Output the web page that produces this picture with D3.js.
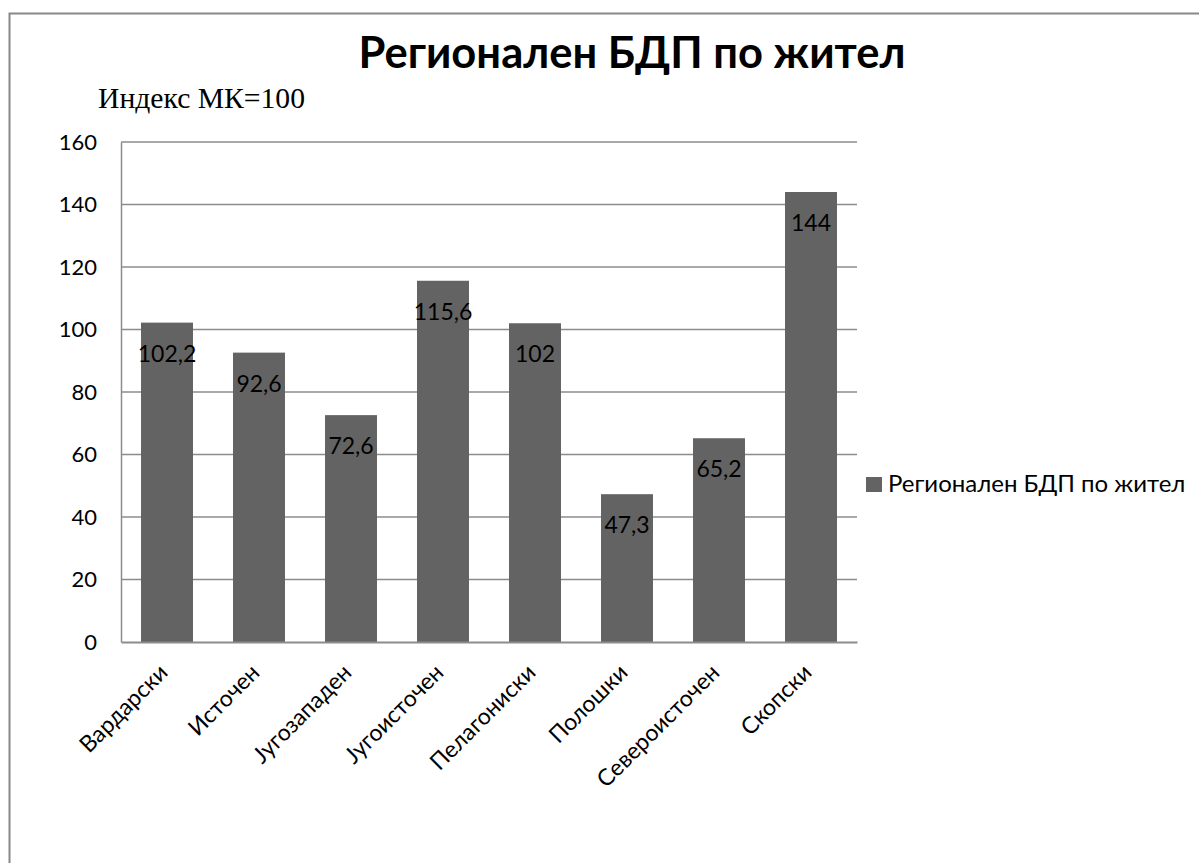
<!DOCTYPE html>
<html>
<head>
<meta charset="utf-8">
<script src="https://cdn.jsdelivr.net/npm/d3@7"></script>
<style>
  body { margin: 0; background: #fff; }
  text { font-family: Lato, "Open Sans", sans-serif; }
</style>
</head>
<body>
<div class="chart"></div>
<script>
var svgWidth = 1199;
var svgHeight = 863;

// chart values
var regions = ["Вардарски", "Источен", "Југозападен", "Југоисточен", "Пелагониски", "Полошки", "Североисточен", "Скопски"];
var values = [102.2, 92.6, 72.6, 115.6, 102, 47.3, 65.2, 144];
var valueLabels = ["102,2", "92,6", "72,6", "115,6", "102", "47,3", "65,2", "144"];
var yTicks = [0, 20, 40, 60, 80, 100, 120, 140, 160];
var seriesName = "Регионален БДП по жител";

var margin = { top: 142, left: 121 };
var width = 736;
var height = 500;

var svg = d3.select(".chart")
  .append("svg")
  .attr("width", svgWidth)
  .attr("height", svgHeight);

// outer chart frame
svg.append("rect")
  .attr("x", 9.5)
  .attr("y", 13.5)
  .attr("width", 1250)
  .attr("height", 900)
  .attr("fill", "none")
  .attr("stroke", "#888")
  .attr("stroke-width", 2);

var chart = svg.append("g")
  .attr("transform", "translate(" + margin.left + "," + margin.top + ")");

var xBandScale = d3.scaleBand()
  .domain(regions)
  .range([0, width])
  .paddingInner(0.435)
  .paddingOuter(0.2175);

var yLinearScale = d3.scaleLinear()
  .domain([0, 160])
  .range([height, 0]);

// gridlines
chart.selectAll(".grid")
  .data(yTicks.filter(function(d) { return d > 0; }))
  .enter().append("line")
    .attr("x1", 0)
    .attr("x2", width)
    .attr("y1", function(d) { return yLinearScale(d); })
    .attr("y2", function(d) { return yLinearScale(d); })
    .attr("stroke", "#8c8c8c")
    .attr("stroke-width", 1.5);

// bars
chart.selectAll(".bar")
  .data(values)
  .enter().append("rect")
    .attr("x", function(d, i) { return xBandScale(regions[i]); })
    .attr("y", function(d) { return yLinearScale(d); })
    .attr("width", xBandScale.bandwidth())
    .attr("height", function(d) { return height - yLinearScale(d); })
    .attr("fill", "#636363");

// value labels
chart.selectAll(".val")
  .data(values)
  .enter().append("text")
    .attr("x", function(d, i) { return xBandScale(regions[i]) + xBandScale.bandwidth() / 2; })
    .attr("y", function(d) { return yLinearScale(d) + 39; })
    .attr("text-anchor", "middle")
    .attr("font-size", "23px")
    .attr("fill", "#000")
    .text(function(d, i) { return valueLabels[i]; });

// axes
var leftAxis = d3.axisLeft(yLinearScale).tickValues(yTicks).tickSize(0).tickPadding(24);
var yAxis = chart.append("g").call(leftAxis);
yAxis.select(".domain").attr("stroke", "#8c8c8c").attr("stroke-width", 1.5);
yAxis.selectAll("text").attr("font-size", "22px").attr("fill", "#000")
  .style("font-family", "Lato, sans-serif");

var bottomAxis = d3.axisBottom(xBandScale).tickSize(0).tickFormat("");
var xAxis = chart.append("g")
  .attr("transform", "translate(0," + height + ")")
  .call(bottomAxis);
xAxis.select(".domain").attr("stroke", "#8c8c8c").attr("stroke-width", 2);

chart.selectAll(".xlab")
  .data(regions)
  .enter().append("text")
    .attr("transform", function(d) {
      var cx = xBandScale(d) + xBandScale.bandwidth() / 2 + 2;
      return "translate(" + cx + "," + (height + 32) + ") rotate(-45)";
    })
    .attr("text-anchor", "end")
    .attr("font-size", "23px")
    .attr("fill", "#000")
    .text(function(d) { return d; });

// title
svg.append("text")
  .attr("x", 632)
  .attr("y", 68)
  .attr("text-anchor", "middle")
  .attr("font-size", "43.5px")
  .attr("font-weight", "bold")
  .attr("fill", "#000")
  .text(seriesName);

// unit label
svg.append("text")
  .attr("x", 98)
  .attr("y", 108)
  .attr("font-size", "30px")
  .attr("textLength", 207)
  .attr("lengthAdjust", "spacingAndGlyphs")
  .style("font-family", "'Liberation Serif', serif")
  .attr("fill", "#000")
  .text("Индекс МК=100");

// legend
var legend = svg.append("g").attr("transform", "translate(866,477)");
legend.append("rect")
  .attr("width", 16)
  .attr("height", 15)
  .attr("fill", "#636363");
legend.append("text")
  .attr("x", 22)
  .attr("y", 15)
  .attr("font-size", "24px")
  .attr("fill", "#000")
  .text(seriesName);
</script>
</body>
</html>
